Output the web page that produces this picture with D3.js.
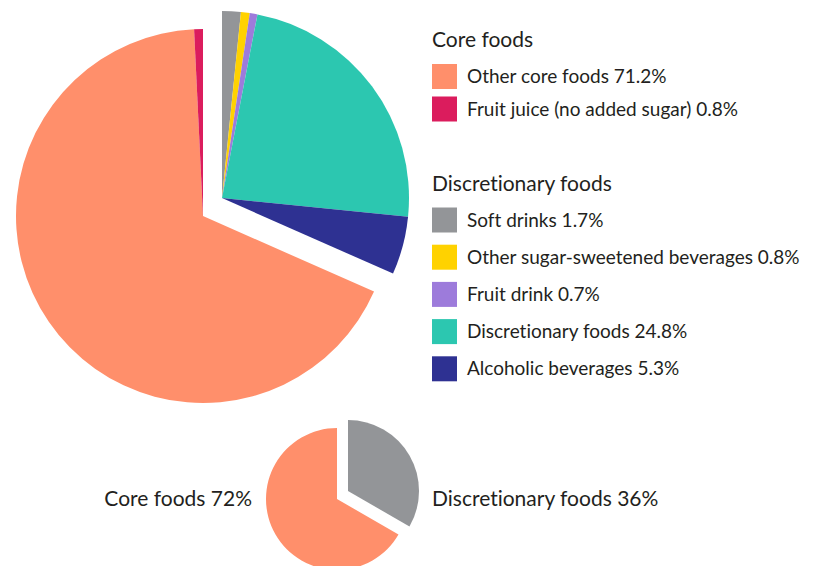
<!DOCTYPE html>
<html>
<head>
<meta charset="utf-8">
<script src="https://cdn.jsdelivr.net/npm/d3@7"></script>
<style>
  html, body { margin: 0; padding: 0; background: #fff; }
  svg text {
    font-family: Lato, "Noto Sans", sans-serif;
    fill: #231f20;
    font-variant-ligatures: none;
    font-feature-settings: "liga" 0, "clig" 0;
  }
</style>
</head>
<body>
<svg id="chart" width="814" height="566"></svg>
<script>
// Breakdown of intake by source (per cent)
const sliceNames = [
  "Soft drinks",
  "Other sugar-sweetened beverages",
  "Fruit drink",
  "Discretionary foods",
  "Alcoholic beverages",
  "Other core foods",
  "Fruit juice (no added sugar)"
];
const sliceGroups = ["disc", "disc", "disc", "disc", "disc", "core", "core"];
const sliceValues = [1.7, 0.8, 0.7, 24.8, 5.3, 71.2, 0.8];
const sliceColors = ["#939598", "#ffd200", "#9d7bdb", "#2cc7b0", "#2e3192", "#ff8f6b", "#db1c5d"];

// Summary pie
const summaryNames = ["Discretionary foods", "Core foods"];
const summaryGroups = ["disc", "core"];
const summaryValues = [36, 72];
const summaryColors = ["#939598", "#ff8f6b"];

// Legend sections
const legendSections = [
  { title: "Core foods", items: [5, 6] },
  { title: "Discretionary foods", items: [0, 1, 2, 3, 4] }
];

const svg = d3.select("#chart");

function drawPie(values, colors, groups, cx, cy, r, offset) {
  const pie = d3.pie().sort(null).value(d => d)(values);
  const arc = d3.arc().innerRadius(0).outerRadius(r);
  const g = svg.append("g").attr("transform", `translate(${cx},${cy})`);
  ["core", "disc"].forEach(key => {
    const dx = key === "disc" ? offset[0] : 0;
    const dy = key === "disc" ? offset[1] : 0;
    g.append("g")
      .attr("transform", `translate(${dx},${dy})`)
      .selectAll("path")
      .data(pie.filter((p, i) => groups[i] === key))
      .join("path")
      .attr("d", arc)
      .attr("fill", p => colors[p.index]);
  });
}

// Detailed pie, discretionary wedge pulled out
drawPie(sliceValues, sliceColors, sliceGroups, 203, 216, 187, [19, -18]);

// Summary pie
drawPie(summaryValues, summaryColors, summaryGroups, 337, 499, 71, [11, -8]);

svg.append("text")
  .attr("x", 252).attr("y", 506)
  .attr("text-anchor", "end")
  .attr("font-size", 21)
  .text(`${summaryNames[1]} ${summaryValues[1]}%`);
svg.append("text")
  .attr("x", 432).attr("y", 506)
  .attr("font-size", 21)
  .text(`${summaryNames[0]} ${summaryValues[0]}%`);

// Legend
const legendLayout = [
  { titleY: 47, firstY: 64, step: 32.5 },
  { titleY: 191, firstY: 207.5, step: 37.2 }
];
const swatch = 25;
legendSections.forEach((sec, si) => {
  const lay = legendLayout[si];
  const lg = svg.append("g");
  lg.append("text")
    .attr("x", 432).attr("y", lay.titleY)
    .attr("font-size", 21)
    .text(sec.title);
  sec.items.forEach((idx, k) => {
    const y = lay.firstY + k * lay.step;
    lg.append("rect")
      .attr("x", 432).attr("y", y)
      .attr("width", swatch).attr("height", swatch)
      .attr("fill", sliceColors[idx]);
    lg.append("text")
      .attr("x", 467).attr("y", y + swatch / 2)
      .attr("dy", "0.35em")
      .attr("font-size", 19)
      .text(`${sliceNames[idx]} ${sliceValues[idx]}%`);
  });
});
</script>
</body>
</html>
